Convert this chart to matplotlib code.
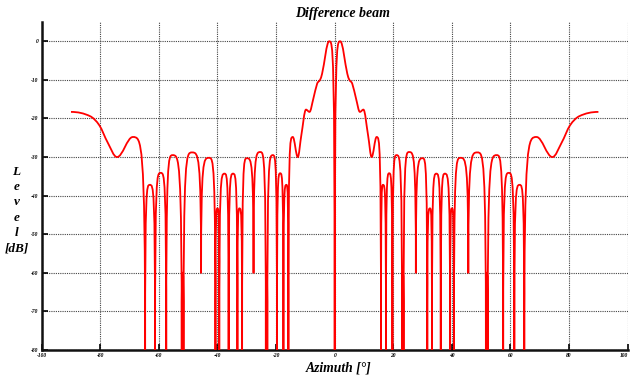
import matplotlib
matplotlib.use("Agg")
import matplotlib.pyplot as plt
from matplotlib.path import Path
from matplotlib.patches import PathPatch

# Difference-beam pattern, azimuth >= 0 (the pattern is symmetric about 0 deg).
# Key points along the trace: nulls/dips ('n'), lobe tops and smooth extrema ('p'),
# and intermediate points on the main-lobe skirt ('s').
AZIMUTH_DEG = [0.0, 1.9, 4.3, 5.0, 6.0, 7.3, 8.6, 9.8, 11.4, 12.6, 14.3,
               15.8, 16.5, 17.5, 18.6, 19.7, 21.1, 23.0, 23.25, 23.5, 25.4,
               27.7, 30.0, 31.6, 32.5, 33.2, 34.7, 36.2, 37.6, 39.4, 40.0,
               40.7, 42.9, 45.6, 48.7, 51.6, 51.9, 52.2, 55.3, 57.5, 59.4,
               61.3, 63.1, 64.7, 68.9, 74.3, 77.5, 80.3, 83.5, 90.0]
LEVEL_DB = [-80, 0.0, -8.4, -10.0, -11.0, -14.9, -18.3, -17.7, -24.4, -30.0, -24.8,
            -80, -37.2, -80, -34.2, -80, -29.5, -80, -60, -80, -28.7,
            -60, -30.3, -80, -43.3, -80, -34.3, -80, -34.3, -80, -43.3,
            -80, -30.2, -60, -28.8, -80, -60, -80, -29.5, -80, -34.1,
            -80, -37.2, -80, -24.8, -30.0, -26.2, -21.8, -19.4, -18.3]
POINT_KIND = list("npsssspps" "pp" "npnpnp" "npn" "p" "n" "pnpnpnpnpnp" "np" "npn" "pnpnpnp" "p" "sssp")

X_TICKS = list(range(-100, 101, 20))
Y_TICKS = list(range(-80, 1, 10))


def mirrored(az, lev, kind):
    full_az = [-a for a in az[::-1]] + az[1:]
    full_lev = lev[::-1] + lev[1:]
    full_kind = kind[::-1] + kind[1:]
    return full_az, full_lev, full_kind


def handle(x, y, k, i, j):
    """Bezier handle leaving key point i in the direction of neighbour j."""
    dx = x[j] - x[i]
    dy = y[j] - y[i]
    if k[i] == "n":
        return (x[i], y[i] + dy)
    if k[i] == "p":
        f = 0.7 if k[j] == "n" else 0.36
        return (x[i] + f * dx, y[i])
    lo, hi = max(i - 1, 0), min(i + 1, len(x) - 1)
    m = (y[hi] - y[lo]) / (x[hi] - x[lo])
    return (x[i] + dx / 3.0, y[i] + m * dx / 3.0)


def pattern_path(x, y, k):
    verts = [(x[0], y[0])]
    codes = [Path.MOVETO]
    for i in range(len(x) - 1):
        verts += [handle(x, y, k, i, i + 1), handle(x, y, k, i + 1, i), (x[i + 1], y[i + 1])]
        codes += [Path.CURVE4] * 3
    return Path(verts, codes)


assert len(AZIMUTH_DEG) == len(LEVEL_DB) == len(POINT_KIND)
az, lev, kind = mirrored(AZIMUTH_DEG, LEVEL_DB, POINT_KIND)

serif = "Liberation Serif"
fig = plt.figure(figsize=(6.3, 3.78), dpi=100)
ax = fig.add_axes([41.7 / 630, 1 - 350 / 378, 586 / 630, 328 / 378])

ax.add_patch(PathPatch(pattern_path(az, lev, kind), facecolor="none",
                       edgecolor="#ff0000", lw=1.3, zorder=3, joinstyle="round"))

ax.set_xlim(-100, 100)
ax.set_ylim(-80, 5)
ax.set_xticks(X_TICKS)
ax.set_yticks(Y_TICKS)
ax.set_xticklabels([str(v) for v in X_TICKS])
ax.set_yticklabels([str(v) for v in Y_TICKS])
for lab in ax.get_xticklabels() + ax.get_yticklabels():
    lab.set_fontfamily(serif)
    lab.set_fontweight("bold")
    lab.set_fontstyle("italic")
ax.get_xticklabels()[-1].set_horizontalalignment("right")
ax.tick_params(direction="in", length=4, width=1.2, labelsize=4, pad=2.5)

ax.grid(True, color="#444444", linestyle=(0, (1, 1)), lw=0.8, zorder=1)
ax.set_axisbelow(True)
for side in ("top", "right"):
    ax.spines[side].set_visible(False)
for side in ("left", "bottom"):
    ax.spines[side].set_linewidth(1.8)
    ax.spines[side].set_color("#111111")

fig.text(343 / 630, 1 - 14 / 378, "Difference beam", ha="center", va="center",
         fontsize=10, fontweight="bold", fontstyle="italic", family=serif)
fig.text(339 / 630, 1 - 368 / 378, "Azimuth [°]", ha="center", va="center",
         fontsize=9.8, fontweight="bold", fontstyle="italic", family=serif)
fig.text(16.5 / 630, 1 - 210 / 378, "L\ne\nv\ne\nl\n[dB]", ha="center", va="center",
         multialignment="center", linespacing=1.36,
         fontsize=9.5, fontweight="bold", fontstyle="italic", family=serif)

fig.savefig("out.png", dpi=100)
